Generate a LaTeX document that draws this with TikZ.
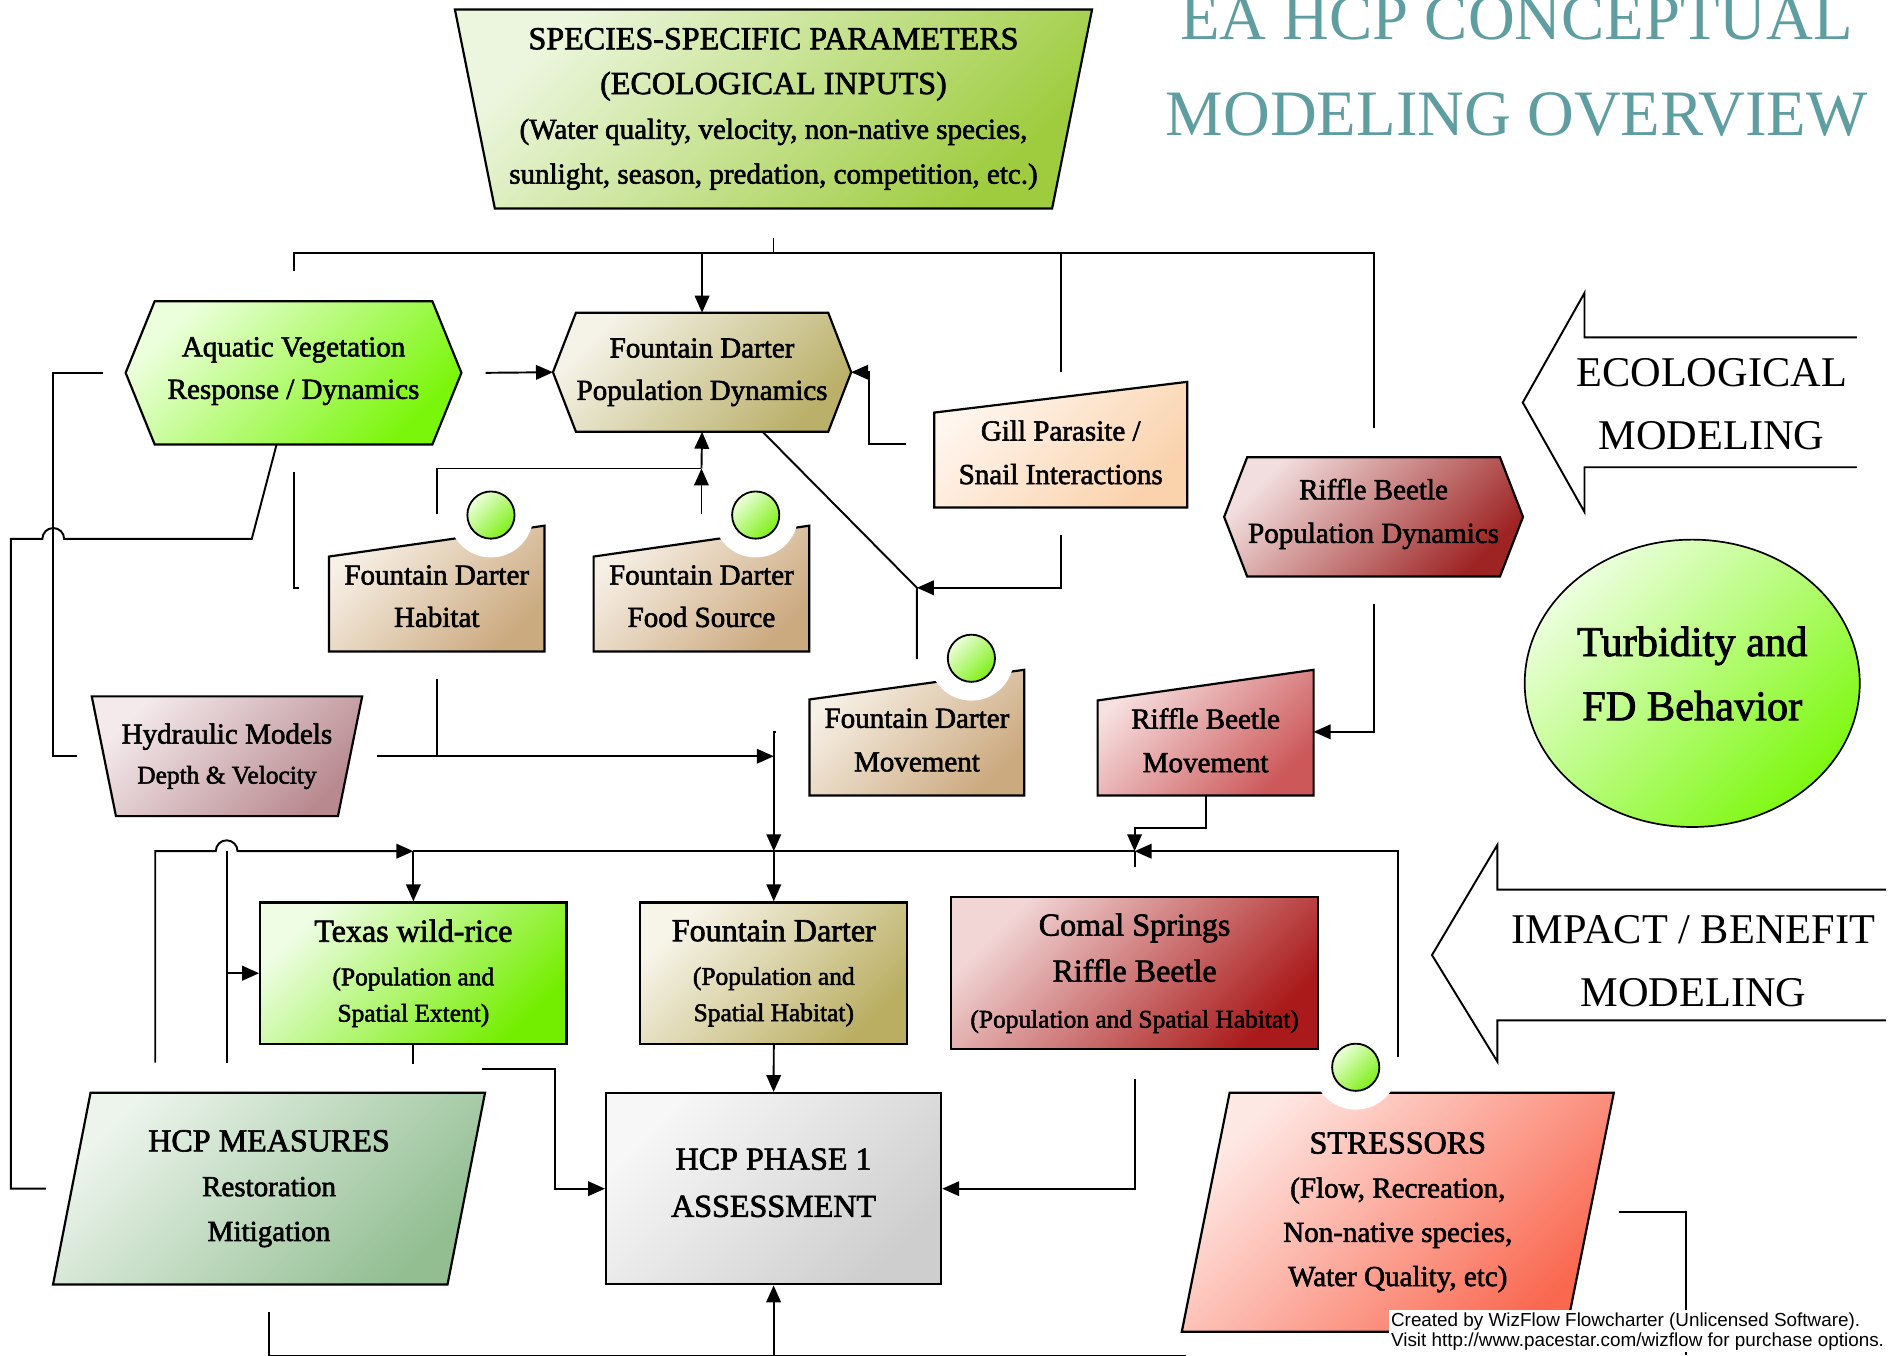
\documentclass[tikz,border=0pt]{standalone}
\usepackage{fontspec}
\setmainfont{Liberation Serif}
\newfontfamily\boxfont{Liberation Serif}[FakeBold=2]
\newfontfamily\wmfont{Liberation Sans}
\usepackage{xcolor}
\usepackage{tikz}
\usetikzlibrary{arrows.meta,positioning,shapes.geometric,calc,backgrounds}

\definecolor{cadet}{RGB}{95,158,160}
\definecolor{spcL}{RGB}{236,246,222}\definecolor{spcD}{RGB}{158,204,62}
\definecolor{aquL}{RGB}{236,255,220}\definecolor{aquD}{RGB}{122,246,10}
\definecolor{fdL}{RGB}{245,243,232}\definecolor{fdD}{RGB}{186,176,106}
\definecolor{gilL}{RGB}{255,246,238}\definecolor{gilD}{RGB}{250,210,172}
\definecolor{rbL}{RGB}{242,222,222}\definecolor{rbD}{RGB}{158,36,36}
\definecolor{habL}{RGB}{247,240,230}\definecolor{habD}{RGB}{204,170,128}
\definecolor{rbmL}{RGB}{247,224,224}\definecolor{rbmD}{RGB}{204,88,90}
\definecolor{hydL}{RGB}{244,234,236}\definecolor{hydD}{RGB}{184,138,144}
\definecolor{turL}{RGB}{236,255,222}\definecolor{turD}{RGB}{126,248,16}
\definecolor{texL}{RGB}{238,253,228}\definecolor{texD}{RGB}{116,238,0}
\definecolor{fdsL}{RGB}{247,244,232}\definecolor{fdsD}{RGB}{186,174,98}
\definecolor{comL}{RGB}{242,214,214}\definecolor{comD}{RGB}{170,26,26}
\definecolor{phsL}{RGB}{247,247,247}\definecolor{phsD}{RGB}{206,206,206}
\definecolor{hcmL}{RGB}{236,244,236}\definecolor{hcmD}{RGB}{146,190,146}
\definecolor{strL}{RGB}{254,232,228}\definecolor{strD}{RGB}{250,104,80}
\definecolor{dotL}{RGB}{236,255,220}\definecolor{dotD}{RGB}{126,240,20}

\newcommand\bigtxt{\fontsize{26.5pt}{36pt}\selectfont}
\newcommand\midtxt{\fontsize{24pt}{35pt}\selectfont}
\newcommand\smtxt{\fontsize{21pt}{30pt}\selectfont}

\begin{document}
\begin{tikzpicture}[x=1pt, y=-1pt,
  every node/.style={align=center, font=\boxfont\midtxt},
  body/.style 2 args={inner sep=0pt, minimum width=#1pt, minimum height=#2pt},
  lines/.style={font=\boxfont\fontsize{24pt}{#1pt}\selectfont},
  shp/.style={draw=black, line width=1.8pt},
  fade/.style 2 args={top color=#1, bottom color=#2, shading angle=45},
  wire/.style={line width=1.6pt},
  arr/.style={wire, -{Triangle[length=14pt, width=12pt]}},
  dot/.style={circle, draw, line width=1.5pt, minimum size=39pt, inner sep=0pt, fade={dotL}{dotD}},
  notch/.style={fill=white},
  lead/.style={draw=black, line width=1.6pt}]
\useasboundingbox (0,0) rectangle (1568,1120);

% title
\node[text=cadet, font=\fontsize{53.5pt}{79pt}\selectfont] (title) at (1253,55)
  {EA HCP CONCEPTUAL\\MODELING OVERVIEW};

% ecological model row
\node[body={526}{164}, lines=37] (species) at (639,90)
  {{\bigtxt SPECIES-SPECIFIC PARAMETERS}\\{\bigtxt (ECOLOGICAL INPUTS)}\\
   (Water quality, velocity, non-native species,\\sunlight, season, predation, competition, etc.)};
\node[body={277}{118}, text depth=8pt] (aqua) at (242.5,308) {Aquatic Vegetation\\Response / Dynamics};
\node[body={246}{98}] (fdpop) at (580,307.5) {Fountain Darter\\Population Dynamics};
\node[body={208.6}{90.7}, lines=36] (gill) at (876.3,373.7) {Gill Parasite /\\Snail Interactions};
\node[body={246.5}{98}, lines=36, text depth=10pt] (rbpop) at (1134.75,427) {Riffle Beetle\\Population Dynamics};
\node[body={177.6}{90.75}] (fdhab) at (360.8,492.6) {Fountain Darter\\Habitat};
\node[body={177.8}{90.75}] (fdfood) at (579.5,492.6) {Fountain Darter\\Food Source};
\node[body={223}{98.5}, lines=33] (hydro) at (187.5,624.75) {Hydraulic Models\\{\smtxt Depth \& Velocity}};
\node[body={177}{91.25}, lines=36] (fdmove) at (757.5,611.4) {Fountain Darter\\Movement};
\node[body={178}{90.8}, lines=36] (rbmove) at (996,611.6) {Riffle Beetle\\Movement};
\node[ellipse, shp, line width=1.4pt, fade={turL}{turD}, body={276.8}{237.4}] (turb) at (1398,564.5) {};
\node[font=\boxfont\fontsize{35pt}{53pt}\selectfont] (turbtxt) at ([yshift=8pt]turb.center) {Turbidity and\\FD Behavior};

% impact / benefit row
\node[body={253}{117}, shp, fade={texL}{texD}, lines=30] (texas) at (341.5,804)
  {{\bigtxt Texas wild-rice}\\[6pt]{\smtxt (Population and}\\{\smtxt Spatial Extent)}};
\node[body={220.5}{117}, shp, fade={fdsL}{fdsD}, lines=30] (fdsp) at (639.25,804)
  {{\bigtxt Fountain Darter}\\[6pt]{\smtxt (Population and}\\{\smtxt Spatial Habitat)}};
\node[body={302.7}{125.3}, shp, fade={comL}{comD}, lines=38] (comal) at (937.3,804)
  {{\bigtxt Comal Springs}\\{\bigtxt Riffle Beetle}\\{\smtxt (Population and Spatial Habitat)}};
\node[body={276.8}{158}, shp, fade={phsL}{phsD}, lines=39, text depth=10pt] (phase) at (639.1,982)
  {{\bigtxt HCP PHASE 1}\\{\bigtxt ASSESSMENT}};
\node[body={356.5}{158}, lines=37] (hcpm) at (222.25,982)
  {{\bigtxt HCP MEASURES}\\Restoration\\Mitigation};
\node[body={356.5}{197}, lines=36.5] (stress) at (1154.75,1001.5)
  {{\bigtxt STRESSORS}\\(Flow, Recreation,\\Non-native species,\\Water Quality, etc)};

% status dots
\node[dot] (dothab) at (405.6,425.5) {};
\node[dot] (dotfood) at (624.3,425.5) {};
\node[dot] (dotmove) at (802.5,543.8) {};
\node[dot] (dotstress) at (1120,881.7) {};

% side banners
\node[font=\fontsize{35pt}{52pt}\selectfont] (eco) at (1414,334) {ECOLOGICAL\\MODELING};
\node[font=\fontsize{35pt}{52pt}\selectfont] (impact) at (1399,794) {IMPACT / BENEFIT\\MODELING};
\draw[lead] (1534,278.7) -- (1309,278.7) -- (1309,242) -- (1258,332.5) -- (1309,423) -- (1309,386) -- (1534,386);
\draw[lead] (1558,735) -- (1237,735) -- (1237,698) -- (1183,789) -- (1237,877) -- (1237,843) -- (1558,843);

% shape outlines behind the texts
\begin{scope}[on background layer]
  \draw[shp, fade={spcL}{spcD}] (species.north west) -- (species.north east)
    -- ([xshift=-33pt]species.south east) -- ([xshift=33pt]species.south west) -- cycle;
  \draw[shp, fade={aquL}{aquD}] (aqua.west) -- ([xshift=24pt]aqua.north west) -- ([xshift=-24pt]aqua.north east)
    -- (aqua.east) -- ([xshift=-24pt]aqua.south east) -- ([xshift=24pt]aqua.south west) -- cycle;
  \draw[shp, fade={fdL}{fdD}] (fdpop.west) -- ([xshift=19pt]fdpop.north west) -- ([xshift=-19pt]fdpop.north east)
    -- (fdpop.east) -- ([xshift=-19pt]fdpop.south east) -- ([xshift=19pt]fdpop.south west) -- cycle;
  \draw[shp, fade={rbL}{rbD}] (rbpop.west) -- ([xshift=19pt]rbpop.north west) -- ([xshift=-19pt]rbpop.north east)
    -- (rbpop.east) -- ([xshift=-19pt]rbpop.south east) -- ([xshift=19pt]rbpop.south west) -- cycle;
  \draw[shp, fade={gilL}{gilD}] (gill.south west) -- ([yshift=-12.7pt]gill.north west)
    -- ([yshift=12.7pt]gill.north east) -- (gill.south east) -- cycle;
  \draw[shp, fade={habL}{habD}] (fdhab.south west) -- ([yshift=-12.75pt]fdhab.north west)
    -- ([yshift=12.75pt]fdhab.north east) -- (fdhab.south east) -- cycle;
  \draw[shp, fade={habL}{habD}] (fdfood.south west) -- ([yshift=-12.75pt]fdfood.north west)
    -- ([yshift=12.75pt]fdfood.north east) -- (fdfood.south east) -- cycle;
  \draw[shp, fade={habL}{habD}] (fdmove.south west) -- ([yshift=-12.25pt]fdmove.north west)
    -- ([yshift=12.25pt]fdmove.north east) -- (fdmove.south east) -- cycle;
  \draw[shp, fade={rbmL}{rbmD}] (rbmove.south west) -- ([yshift=-12.65pt]rbmove.north west)
    -- ([yshift=12.65pt]rbmove.north east) -- (rbmove.south east) -- cycle;
  \draw[shp, fade={hydL}{hydD}] (hydro.north west) -- (hydro.north east)
    -- ([xshift=-20pt]hydro.south east) -- ([xshift=20pt]hydro.south west) -- cycle;
  \draw[shp, fade={hcmL}{hcmD}] ([xshift=31pt]hcpm.north west) -- (hcpm.north east)
    -- ([xshift=-31pt]hcpm.south east) -- (hcpm.south west) -- cycle;
  \draw[shp, fade={strL}{strD}] ([xshift=39.5pt]stress.north west) -- (stress.north east)
    -- ([xshift=-39.5pt]stress.south east) -- (stress.south west) -- cycle;
  \draw[shp] ([xshift=15.5pt]phase.north west) -- ([xshift=15.5pt]phase.south west);
  \draw[shp] ([xshift=-15.5pt]phase.north east) -- ([xshift=-15.5pt]phase.south east);
  \foreach \d in {dothab,dotfood,dotmove,dotstress}
    \fill[notch] (\d) circle[radius=35pt];
\end{scope}

% junctions
\coordinate (busTop) at (639,209);
\coordinate (laneA) at (44,0);
\coordinate (jFood) at ([yshift=60pt]fdfood.north);
\coordinate (jMove) at ([yshift=80pt]fdmove.north);
\coordinate (jHyd) at (fdsp.north |- hydro.east);
\coordinate (busMid) at ([yshift=41.4pt]fdsp.north);
\coordinate (jRB) at (comal.north |- busMid);
\coordinate (laneC) at ([xshift=-94pt,yshift=25pt]hcpm.north);
\coordinate (laneD) at ([xshift=-35pt,yshift=25pt]hcpm.north);
\coordinate (busLow) at ([yshift=-58pt]phase.south);

% species inputs
\draw[wire] ([yshift=-24pt]species.south) -- (busTop);
\draw[wire] ([yshift=25pt]aqua.north) |- (busTop) -| ([yshift=24pt]rbpop.north);
\draw[arr] (fdpop.north |- busTop) -- (fdpop.north);
\draw[wire] (gill.north |- busTop) -- ([yshift=21pt]gill.north);

% ecological links
\draw[arr] ([xshift=20pt]aqua.east) -- (fdpop.west);
\draw[wire] ([xshift=-19pt]aqua.west) -| (laneA |- hydro.west) -- ([xshift=-12pt]hydro.west);
\draw[wire] ([xshift=-14pt]aqua.south) -- ++(-20.5,78) -- ++(-155,0)
  arc[start angle=0, end angle=180, radius=9pt] -- ++(-26,0) |- ([xshift=-6pt]hcpm.west);
\draw[wire] ([yshift=-23pt]aqua.south) |- ([xshift=-25pt,yshift=7pt]fdhab.west);
\draw[wire] ([yshift=22pt]fdhab.north) |- (jFood);
\draw[arr] ([yshift=22pt]fdfood.north) -- (jFood);
\draw[arr] (jFood) -- (fdpop.south);
\draw[arr] ([xshift=-23pt,yshift=7pt]gill.west) -- ++(-31,0) |- (fdpop.east);
\draw[wire] ([xshift=50pt]fdpop.south) -- (jMove) -- ([yshift=21pt]fdmove.north);
\draw[arr] ([yshift=-23pt]gill.south) |- (jMove);
\draw[arr] ([yshift=-23pt]rbpop.south) |- ([yshift=7pt]rbmove.east);

% into impact models
\draw[arr] ([xshift=12.5pt]hydro.east) -- (jHyd);
\draw[wire] ([yshift=-23pt]fdhab.south) -- (fdhab.south |- jHyd);
\draw[arr] ([xshift=-28pt,yshift=7pt]fdmove.west) -| (busMid);
\draw[arr] (busMid) -- (fdsp.north);
\draw[arr] (laneC) |- ($(laneD |- busMid)+(-9,0)$) arc[start angle=180, end angle=0, radius=9pt]
  -- (texas.north |- busMid);
\draw[arr] (texas.north |- busMid) -- (texas.north);
\draw[wire] (texas.north |- busMid) -- (busMid) -- (jRB);
\draw[arr] ([yshift=30pt]stress.north) |- (jRB);
\draw[arr] (rbmove.south) -- ++(0,27) -| (jRB);
\draw[wire] (jRB) -- ([yshift=24pt]comal.north);
\draw[wire] (laneD) -- (laneD |- busMid);
\draw[arr] (laneD |- texas.west) -- (texas.west);

% assessment
\draw[wire] (texas.south) -- ++(0,16);
\draw[arr] ([xshift=56.5pt,yshift=-20pt]texas.south) -| ($(phase.west)+(-41,0)$) -- (phase.west);
\draw[arr] (fdsp.south) -- (phase.north);
\draw[arr] ([yshift=-24pt]comal.south) |- (phase.east);
\draw[arr] ([yshift=-23pt]hcpm.south) |- (busLow) -- (phase.south);
\draw[wire] (busLow) -- ++(341,0);
\draw[wire] ([xshift=4pt]stress.east) -| ++(56,118);

% watermark
\node[anchor=north west, fill=white, inner sep=2pt, align=left,
  font=\wmfont\fontsize{15.6pt}{16.5pt}\selectfont] (wm) at (1147,1082)
  {Created by WizFlow Flowcharter (Unlicensed Software).\\Visit http://www.pacestar.com/wizflow for purchase options.};
\end{tikzpicture}
\end{document}
